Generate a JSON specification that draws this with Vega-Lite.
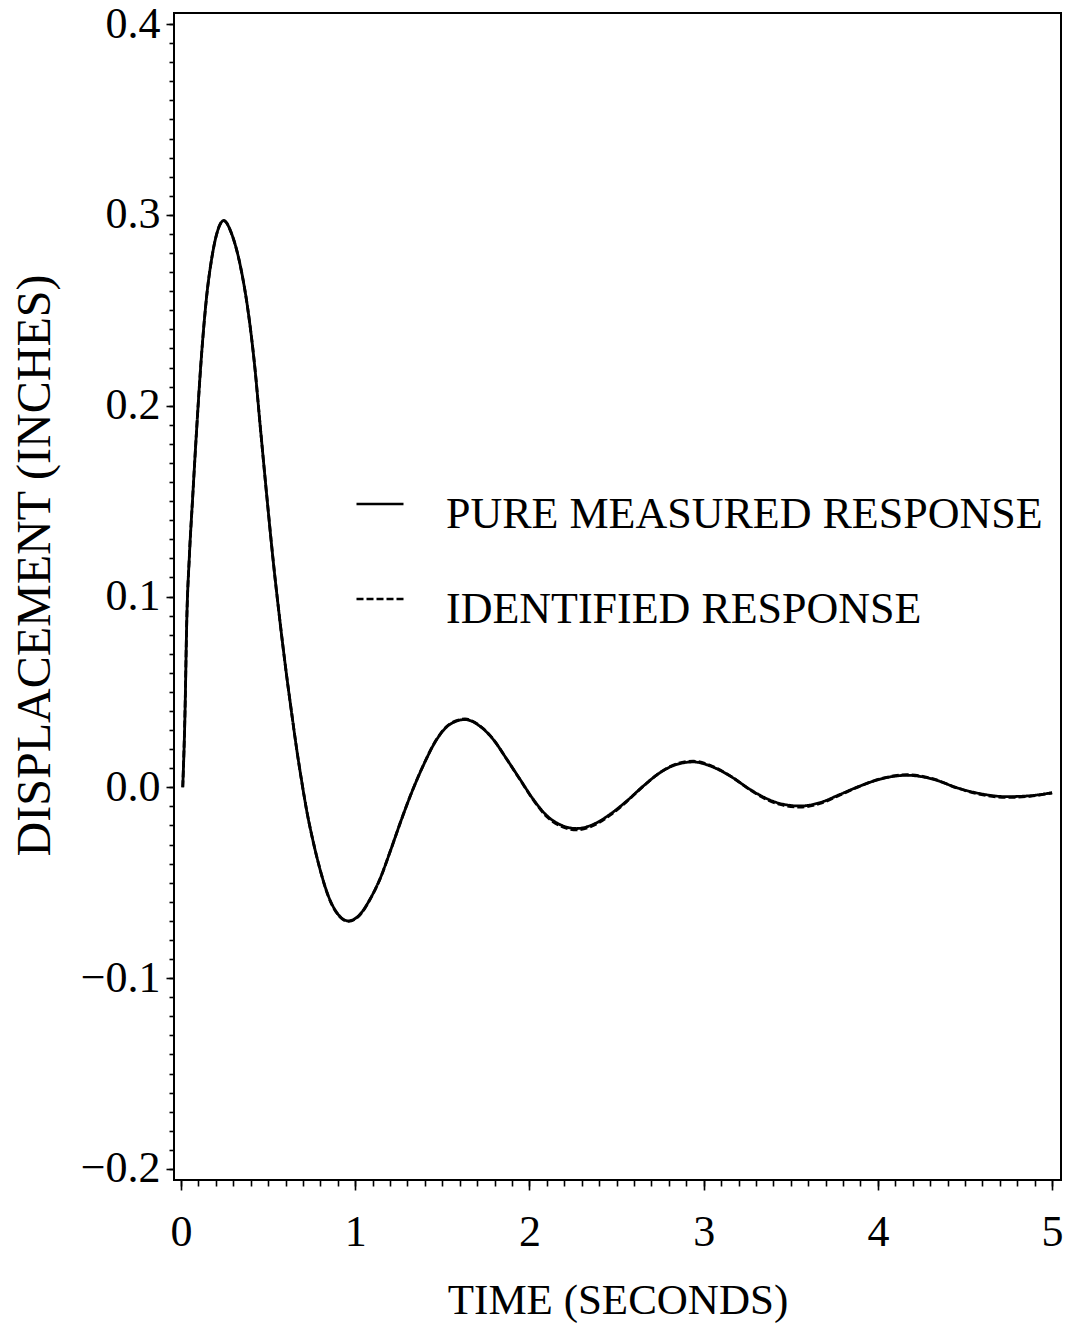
{
  "$schema": "https://vega.github.io/schema/vega-lite/v6.json",
  "width": 887,
  "height": 1167,
  "autosize": "none",
  "padding": {"left": 174, "top": 13, "right": 9, "bottom": 144},
  "background": "white",
  "config": {
    "font": "Liberation Serif",
    "view": {"stroke": "black", "strokeWidth": 2},
    "axis": {"grid": false, "domain": false, "tickColor": "black", "tickWidth": 1.6, "labelColor": "black", "titleColor": "black"},
    "style": {"guide-label": {"lineHeight": 22}}
  },
  "datasets": {
    "resp": [
      {"t": 0.010, "v": 0.000, "series": "PURE MEASURED RESPONSE"},
      {"t": 0.023, "v": 0.039, "series": "PURE MEASURED RESPONSE"},
      {"t": 0.033, "v": 0.087, "series": "PURE MEASURED RESPONSE"},
      {"t": 0.048, "v": 0.121, "series": "PURE MEASURED RESPONSE"},
      {"t": 0.067, "v": 0.152, "series": "PURE MEASURED RESPONSE"},
      {"t": 0.090, "v": 0.188, "series": "PURE MEASURED RESPONSE"},
      {"t": 0.119, "v": 0.228, "series": "PURE MEASURED RESPONSE"},
      {"t": 0.148, "v": 0.258, "series": "PURE MEASURED RESPONSE"},
      {"t": 0.176, "v": 0.277, "series": "PURE MEASURED RESPONSE"},
      {"t": 0.205, "v": 0.290, "series": "PURE MEASURED RESPONSE"},
      {"t": 0.245, "v": 0.297, "series": "PURE MEASURED RESPONSE"},
      {"t": 0.291, "v": 0.290, "series": "PURE MEASURED RESPONSE"},
      {"t": 0.339, "v": 0.274, "series": "PURE MEASURED RESPONSE"},
      {"t": 0.386, "v": 0.249, "series": "PURE MEASURED RESPONSE"},
      {"t": 0.425, "v": 0.219, "series": "PURE MEASURED RESPONSE"},
      {"t": 0.453, "v": 0.191, "series": "PURE MEASURED RESPONSE"},
      {"t": 0.492, "v": 0.153, "series": "PURE MEASURED RESPONSE"},
      {"t": 0.530, "v": 0.118, "series": "PURE MEASURED RESPONSE"},
      {"t": 0.568, "v": 0.087, "series": "PURE MEASURED RESPONSE"},
      {"t": 0.607, "v": 0.058, "series": "PURE MEASURED RESPONSE"},
      {"t": 0.635, "v": 0.039, "series": "PURE MEASURED RESPONSE"},
      {"t": 0.664, "v": 0.020, "series": "PURE MEASURED RESPONSE"},
      {"t": 0.693, "v": 0.003, "series": "PURE MEASURED RESPONSE"},
      {"t": 0.721, "v": -0.012, "series": "PURE MEASURED RESPONSE"},
      {"t": 0.760, "v": -0.029, "series": "PURE MEASURED RESPONSE"},
      {"t": 0.798, "v": -0.043, "series": "PURE MEASURED RESPONSE"},
      {"t": 0.846, "v": -0.057, "series": "PURE MEASURED RESPONSE"},
      {"t": 0.894, "v": -0.0656, "series": "PURE MEASURED RESPONSE"},
      {"t": 0.961, "v": -0.0700, "series": "PURE MEASURED RESPONSE"},
      {"t": 1.028, "v": -0.0665, "series": "PURE MEASURED RESPONSE"},
      {"t": 1.085, "v": -0.0586, "series": "PURE MEASURED RESPONSE"},
      {"t": 1.142, "v": -0.0480, "series": "PURE MEASURED RESPONSE"},
      {"t": 1.200, "v": -0.0338, "series": "PURE MEASURED RESPONSE"},
      {"t": 1.257, "v": -0.0190, "series": "PURE MEASURED RESPONSE"},
      {"t": 1.315, "v": -0.0048, "series": "PURE MEASURED RESPONSE"},
      {"t": 1.391, "v": 0.0115, "series": "PURE MEASURED RESPONSE"},
      {"t": 1.468, "v": 0.0251, "series": "PURE MEASURED RESPONSE"},
      {"t": 1.544, "v": 0.0330, "series": "PURE MEASURED RESPONSE"},
      {"t": 1.630, "v": 0.0355, "series": "PURE MEASURED RESPONSE"},
      {"t": 1.716, "v": 0.0320, "series": "PURE MEASURED RESPONSE"},
      {"t": 1.793, "v": 0.0250, "series": "PURE MEASURED RESPONSE"},
      {"t": 1.870, "v": 0.0147, "series": "PURE MEASURED RESPONSE"},
      {"t": 1.946, "v": 0.0042, "series": "PURE MEASURED RESPONSE"},
      {"t": 2.022, "v": -0.0063, "series": "PURE MEASURED RESPONSE"},
      {"t": 2.099, "v": -0.0148, "series": "PURE MEASURED RESPONSE"},
      {"t": 2.195, "v": -0.0203, "series": "PURE MEASURED RESPONSE"},
      {"t": 2.271, "v": -0.0216, "series": "PURE MEASURED RESPONSE"},
      {"t": 2.367, "v": -0.0194, "series": "PURE MEASURED RESPONSE"},
      {"t": 2.463, "v": -0.0141, "series": "PURE MEASURED RESPONSE"},
      {"t": 2.558, "v": -0.0072, "series": "PURE MEASURED RESPONSE"},
      {"t": 2.654, "v": 0.0007, "series": "PURE MEASURED RESPONSE"},
      {"t": 2.750, "v": 0.0077, "series": "PURE MEASURED RESPONSE"},
      {"t": 2.845, "v": 0.0120, "series": "PURE MEASURED RESPONSE"},
      {"t": 2.941, "v": 0.0133, "series": "PURE MEASURED RESPONSE"},
      {"t": 3.037, "v": 0.0112, "series": "PURE MEASURED RESPONSE"},
      {"t": 3.152, "v": 0.0059, "series": "PURE MEASURED RESPONSE"},
      {"t": 3.266, "v": -0.0011, "series": "PURE MEASURED RESPONSE"},
      {"t": 3.324, "v": -0.0042, "series": "PURE MEASURED RESPONSE"},
      {"t": 3.439, "v": -0.0085, "series": "PURE MEASURED RESPONSE"},
      {"t": 3.554, "v": -0.0098, "series": "PURE MEASURED RESPONSE"},
      {"t": 3.668, "v": -0.0080, "series": "PURE MEASURED RESPONSE"},
      {"t": 3.783, "v": -0.0037, "series": "PURE MEASURED RESPONSE"},
      {"t": 3.898, "v": 0.0007, "series": "PURE MEASURED RESPONSE"},
      {"t": 4.013, "v": 0.0043, "series": "PURE MEASURED RESPONSE"},
      {"t": 4.166, "v": 0.0063, "series": "PURE MEASURED RESPONSE"},
      {"t": 4.319, "v": 0.0042, "series": "PURE MEASURED RESPONSE"},
      {"t": 4.453, "v": -0.0002, "series": "PURE MEASURED RESPONSE"},
      {"t": 4.587, "v": -0.0033, "series": "PURE MEASURED RESPONSE"},
      {"t": 4.740, "v": -0.0049, "series": "PURE MEASURED RESPONSE"},
      {"t": 4.874, "v": -0.0044, "series": "PURE MEASURED RESPONSE"},
      {"t": 5.000, "v": -0.0028, "series": "PURE MEASURED RESPONSE"},

      {"t": 0.010, "v": 0.000, "series": "IDENTIFIED RESPONSE"},
      {"t": 0.023, "v": 0.040, "series": "IDENTIFIED RESPONSE"},
      {"t": 0.033, "v": 0.087, "series": "IDENTIFIED RESPONSE"},
      {"t": 0.048, "v": 0.121, "series": "IDENTIFIED RESPONSE"},
      {"t": 0.067, "v": 0.152, "series": "IDENTIFIED RESPONSE"},
      {"t": 0.090, "v": 0.188, "series": "IDENTIFIED RESPONSE"},
      {"t": 0.119, "v": 0.228, "series": "IDENTIFIED RESPONSE"},
      {"t": 0.148, "v": 0.258, "series": "IDENTIFIED RESPONSE"},
      {"t": 0.176, "v": 0.277, "series": "IDENTIFIED RESPONSE"},
      {"t": 0.205, "v": 0.290, "series": "IDENTIFIED RESPONSE"},
      {"t": 0.245, "v": 0.297, "series": "IDENTIFIED RESPONSE"},
      {"t": 0.291, "v": 0.290, "series": "IDENTIFIED RESPONSE"},
      {"t": 0.339, "v": 0.274, "series": "IDENTIFIED RESPONSE"},
      {"t": 0.386, "v": 0.249, "series": "IDENTIFIED RESPONSE"},
      {"t": 0.425, "v": 0.219, "series": "IDENTIFIED RESPONSE"},
      {"t": 0.453, "v": 0.191, "series": "IDENTIFIED RESPONSE"},
      {"t": 0.492, "v": 0.153, "series": "IDENTIFIED RESPONSE"},
      {"t": 0.530, "v": 0.118, "series": "IDENTIFIED RESPONSE"},
      {"t": 0.568, "v": 0.087, "series": "IDENTIFIED RESPONSE"},
      {"t": 0.607, "v": 0.058, "series": "IDENTIFIED RESPONSE"},
      {"t": 0.635, "v": 0.039, "series": "IDENTIFIED RESPONSE"},
      {"t": 0.664, "v": 0.020, "series": "IDENTIFIED RESPONSE"},
      {"t": 0.693, "v": 0.003, "series": "IDENTIFIED RESPONSE"},
      {"t": 0.721, "v": -0.012, "series": "IDENTIFIED RESPONSE"},
      {"t": 0.760, "v": -0.029, "series": "IDENTIFIED RESPONSE"},
      {"t": 0.798, "v": -0.043, "series": "IDENTIFIED RESPONSE"},
      {"t": 0.846, "v": -0.0572, "series": "IDENTIFIED RESPONSE"},
      {"t": 0.894, "v": -0.0659, "series": "IDENTIFIED RESPONSE"},
      {"t": 0.961, "v": -0.0703, "series": "IDENTIFIED RESPONSE"},
      {"t": 1.028, "v": -0.0668, "series": "IDENTIFIED RESPONSE"},
      {"t": 1.085, "v": -0.0588, "series": "IDENTIFIED RESPONSE"},
      {"t": 1.142, "v": -0.0481, "series": "IDENTIFIED RESPONSE"},
      {"t": 1.200, "v": -0.0338, "series": "IDENTIFIED RESPONSE"},
      {"t": 1.257, "v": -0.0190, "series": "IDENTIFIED RESPONSE"},
      {"t": 1.315, "v": -0.0047, "series": "IDENTIFIED RESPONSE"},
      {"t": 1.391, "v": 0.0116, "series": "IDENTIFIED RESPONSE"},
      {"t": 1.468, "v": 0.0253, "series": "IDENTIFIED RESPONSE"},
      {"t": 1.544, "v": 0.0333, "series": "IDENTIFIED RESPONSE"},
      {"t": 1.630, "v": 0.0358, "series": "IDENTIFIED RESPONSE"},
      {"t": 1.716, "v": 0.0322, "series": "IDENTIFIED RESPONSE"},
      {"t": 1.793, "v": 0.0251, "series": "IDENTIFIED RESPONSE"},
      {"t": 1.870, "v": 0.0147, "series": "IDENTIFIED RESPONSE"},
      {"t": 1.946, "v": 0.0040, "series": "IDENTIFIED RESPONSE"},
      {"t": 2.022, "v": -0.0066, "series": "IDENTIFIED RESPONSE"},
      {"t": 2.099, "v": -0.0153, "series": "IDENTIFIED RESPONSE"},
      {"t": 2.195, "v": -0.0209, "series": "IDENTIFIED RESPONSE"},
      {"t": 2.271, "v": -0.0223, "series": "IDENTIFIED RESPONSE"},
      {"t": 2.367, "v": -0.0200, "series": "IDENTIFIED RESPONSE"},
      {"t": 2.463, "v": -0.0146, "series": "IDENTIFIED RESPONSE"},
      {"t": 2.558, "v": -0.0075, "series": "IDENTIFIED RESPONSE"},
      {"t": 2.654, "v": 0.0006, "series": "IDENTIFIED RESPONSE"},
      {"t": 2.750, "v": 0.0078, "series": "IDENTIFIED RESPONSE"},
      {"t": 2.845, "v": 0.0123, "series": "IDENTIFIED RESPONSE"},
      {"t": 2.941, "v": 0.0137, "series": "IDENTIFIED RESPONSE"},
      {"t": 3.037, "v": 0.0115, "series": "IDENTIFIED RESPONSE"},
      {"t": 3.152, "v": 0.0060, "series": "IDENTIFIED RESPONSE"},
      {"t": 3.266, "v": -0.0013, "series": "IDENTIFIED RESPONSE"},
      {"t": 3.324, "v": -0.0046, "series": "IDENTIFIED RESPONSE"},
      {"t": 3.439, "v": -0.0090, "series": "IDENTIFIED RESPONSE"},
      {"t": 3.554, "v": -0.0104, "series": "IDENTIFIED RESPONSE"},
      {"t": 3.668, "v": -0.0085, "series": "IDENTIFIED RESPONSE"},
      {"t": 3.783, "v": -0.0040, "series": "IDENTIFIED RESPONSE"},
      {"t": 3.898, "v": 0.0006, "series": "IDENTIFIED RESPONSE"},
      {"t": 4.013, "v": 0.0044, "series": "IDENTIFIED RESPONSE"},
      {"t": 4.166, "v": 0.0066, "series": "IDENTIFIED RESPONSE"},
      {"t": 4.319, "v": 0.0044, "series": "IDENTIFIED RESPONSE"},
      {"t": 4.453, "v": -0.0003, "series": "IDENTIFIED RESPONSE"},
      {"t": 4.587, "v": -0.0037, "series": "IDENTIFIED RESPONSE"},
      {"t": 4.740, "v": -0.0053, "series": "IDENTIFIED RESPONSE"},
      {"t": 4.874, "v": -0.0047, "series": "IDENTIFIED RESPONSE"},
      {"t": 5.000, "v": -0.0030, "series": "IDENTIFIED RESPONSE"}
    ]
  },
  "data": {"name": "resp"},
  "resolve": {"axis": {"x": "independent", "y": "independent"}},
  "layer": [
    {
      "description": "Invisible layer that only carries the minor tick axes",
      "mark": {"type": "point", "opacity": 0},
      "encoding": {
        "x": {
          "field": "t", "type": "quantitative",
          "scale": {"domain": [-0.0402, 5.051], "nice": false, "zero": false},
          "axis": {
            "orient": "bottom", "title": null, "labels": false, "tickSize": 6,
            "values": [0,0.1,0.2,0.3,0.4,0.5,0.6,0.7,0.8,0.9,1,1.1,1.2,1.3,1.4,1.5,1.6,1.7,1.8,1.9,2,2.1,2.2,2.3,2.4,2.5,2.6,2.7,2.8,2.9,3,3.1,3.2,3.3,3.4,3.5,3.6,3.7,3.8,3.9,4,4.1,4.2,4.3,4.4,4.5,4.6,4.7,4.8,4.9,5]
          }
        },
        "y": {
          "field": "v", "type": "quantitative",
          "scale": {"domain": [-0.2058, 0.4058], "nice": false, "zero": false},
          "axis": {
            "orient": "left", "title": null, "labels": false, "tickSize": 5,
            "values": [-0.2,-0.19,-0.18,-0.17,-0.16,-0.15,-0.14,-0.13,-0.12,-0.11,-0.1,-0.09,-0.08,-0.07,-0.06,-0.05,-0.04,-0.03,-0.02,-0.01,0,0.01,0.02,0.03,0.04,0.05,0.06,0.07,0.08,0.09,0.1,0.11,0.12,0.13,0.14,0.15,0.16,0.17,0.18,0.19,0.2,0.21,0.22,0.23,0.24,0.25,0.26,0.27,0.28,0.29,0.3,0.31,0.32,0.33,0.34,0.35,0.36,0.37,0.38,0.39,0.4]
          }
        }
      }
    },
    {
      "mark": {"type": "line", "strokeWidth": 2.8, "interpolate": "monotone"},
      "encoding": {
        "x": {
          "field": "t", "type": "quantitative",
          "scale": {"domain": [-0.0402, 5.051], "nice": false, "zero": false},
          "axis": {
            "orient": "bottom", "values": [0, 1, 2, 3, 4, 5], "format": "d",
            "tickSize": 10, "labelPadding": 20, "labelFontSize": 44, "labelBaseline": "top",
            "title": "TIME (SECONDS)", "titleFontSize": 43, "titleFontWeight": "normal",
            "titleBaseline": "alphabetic", "titleY": 133
          }
        },
        "y": {
          "field": "v", "type": "quantitative",
          "scale": {"domain": [-0.2058, 0.4058], "nice": false, "zero": false},
          "axis": {
            "orient": "left", "values": [-0.2, -0.1, 0, 0.1, 0.2, 0.3, 0.4], "format": ".1f",
            "tickSize": 8, "labelPadding": 6, "labelFontSize": 44,
            "title": "DISPLACEMENT (INCHES)", "titleFontSize": 48, "titleFontWeight": "normal",
            "titleAngle": -90, "titleBaseline": "alphabetic", "titleAlign": "center",
            "titleX": -125, "titleY": 552
          }
        },
        "color": {
          "field": "series", "type": "nominal",
          "scale": {"domain": ["PURE MEASURED RESPONSE", "IDENTIFIED RESPONSE"], "range": ["black", "black"]},
          "legend": {
            "title": null, "orient": "none", "legendX": 181, "legendY": 466,
            "symbolType": "stroke", "symbolSize": 2209, "symbolStrokeWidth": 2.4,
            "labelFontSize": 44, "labelOffset": 41, "labelLimit": 800, "rowPadding": 37,
            "labelBaseline": "line-top", "padding": 0, "labelColor": "black"
          }
        },
        "strokeDash": {
          "field": "series", "type": "nominal",
          "scale": {"domain": ["PURE MEASURED RESPONSE", "IDENTIFIED RESPONSE"], "range": [[1, 0], [7, 3]]},
          "legend": {
            "title": null, "orient": "none", "legendX": 181, "legendY": 466,
            "symbolType": "stroke", "symbolSize": 2209, "symbolStrokeWidth": 2.4,
            "labelFontSize": 44, "labelOffset": 41, "labelLimit": 800, "rowPadding": 37,
            "labelBaseline": "line-top", "padding": 0, "labelColor": "black"
          }
        }
      }
    }
  ]
}
